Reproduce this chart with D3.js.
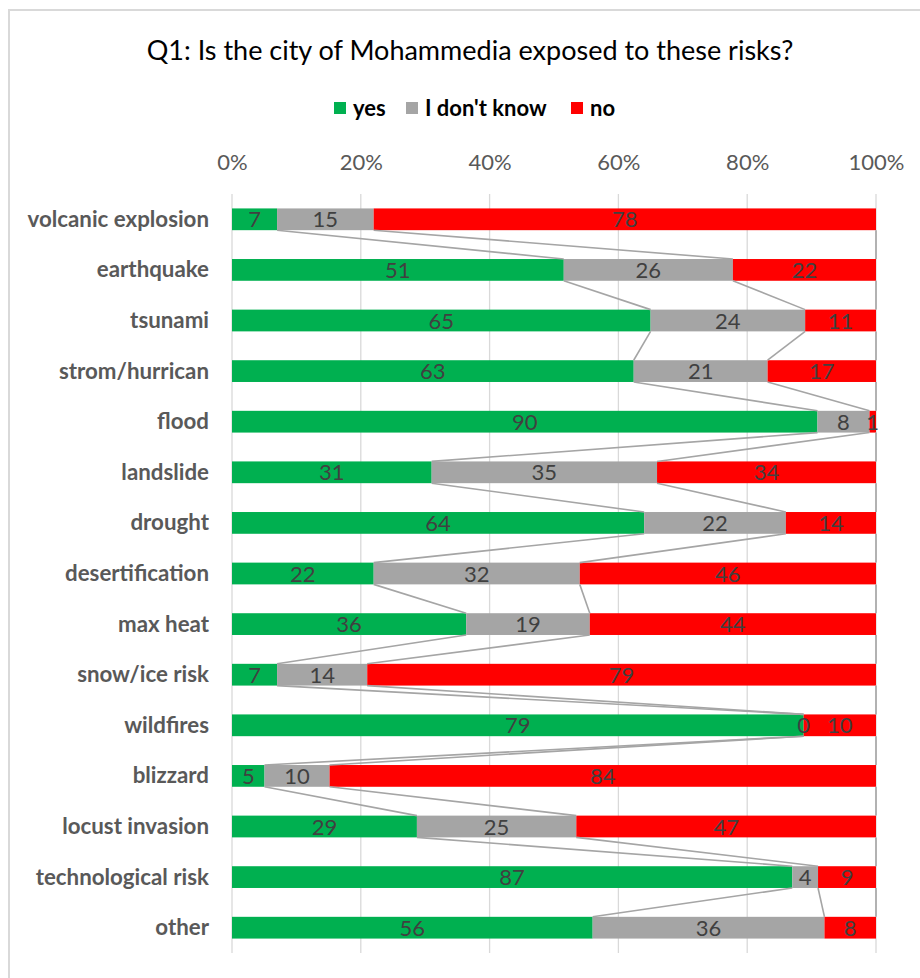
<!DOCTYPE html>
<html>
<head>
<meta charset="utf-8">
<script src="https://cdn.jsdelivr.net/npm/d3@7"></script>
<style>
  html, body { margin: 0; padding: 0; background: #fff; }
  svg { display: block; }
</style>
</head>
<body>
<svg id="chart" width="920" height="978"></svg>
<script>
const categories = ["volcanic explosion","earthquake","tsunami","strom/hurrican","flood","landslide","drought","desertification","max heat","snow/ice risk","wildfires","blizzard","locust invasion","technological risk","other"];
const yesValues   = [7, 51, 65, 63, 90, 31, 64, 22, 36, 7, 79, 5, 29, 87, 56];
const dontKnowValues = [15, 26, 24, 21, 8, 35, 22, 32, 19, 14, 0, 10, 25, 4, 36];
const noValues    = [78, 22, 11, 17, 1, 34, 14, 46, 44, 79, 10, 84, 47, 9, 8];
const seriesNames = ["yes", "I don't know", "no"];
const seriesColors = ["#00b050", "#a5a5a5", "#ff0000"];
const tickValues = [0, 0.2, 0.4, 0.6, 0.8, 1];
const titleText = "Q1: Is the city of Mohammedia exposed to these risks?";

const FONT = "Lato, 'Open Sans', sans-serif";
const svg = d3.select("#chart");

// chart border
svg.append("rect").attr("x", 9).attr("y", 10).attr("width", 930).attr("height", 1000)
  .attr("fill", "none").attr("stroke", "#d9d9d9").attr("stroke-width", 2);

// title
svg.append("text").attr("x", 470).attr("y", 60).attr("text-anchor", "middle")
  .attr("font-family", FONT).attr("font-size", 27).attr("fill", "#000").text(titleText);

const x = d3.scaleLinear().domain([0, 1]).range([232, 876]);
const y = d3.scaleBand().domain(categories).range([194, 953]).paddingInner(0.57).paddingOuter(0.285);

// data rows
const rows = categories.map((c, i) => {
  const vals = [yesValues[i], dontKnowValues[i], noValues[i]];
  const total = d3.sum(vals);
  let cum = 0;
  const segs = vals.map((v, s) => {
    const x0 = cum / total; cum += v; const x1 = cum / total;
    return { cat: c, s, v, x0, x1 };
  });
  return { cat: c, segs };
});

// grid
svg.append("g").selectAll("line").data(tickValues).join("line")
  .attr("x1", d => x(d)).attr("x2", d => x(d))
  .attr("y1", 194).attr("y2", 953)
  .attr("stroke", "#d9d9d9").attr("stroke-width", 1.3);

// top axis labels
const axis = d3.axisTop(x).tickValues(tickValues).tickFormat(d3.format(".0%")).tickSize(0).tickPadding(0);
const axG = svg.append("g").attr("transform", "translate(0,170)").call(axis);
axG.select(".domain").remove();
axG.selectAll("text").attr("font-family", FONT).attr("font-size", 22).attr("fill", "#595959");

// bars
const barG = svg.append("g");
rows.forEach(r => {
  barG.selectAll(null).data(r.segs).join("rect")
    .attr("x", d => x(d.x0)).attr("width", d => x(d.x1) - x(d.x0))
    .attr("y", y(r.cat)).attr("height", y.bandwidth())
    .attr("fill", d => seriesColors[d.s]);
});

// series lines
const lineG = svg.append("g");
for (let i = 0; i < rows.length - 1; i++) {
  for (let s = 0; s < 3; s++) {
    const a = rows[i].segs[s].x1, b = rows[i + 1].segs[s].x1;
    lineG.append("line")
      .attr("x1", x(a)).attr("y1", y(rows[i].cat) + y.bandwidth())
      .attr("x2", x(b)).attr("y2", y(rows[i + 1].cat))
      .attr("stroke", "#a5a5a5").attr("stroke-width", 1.6);
  }
}

// value labels
const labG = svg.append("g");
rows.forEach(r => {
  labG.selectAll(null).data(r.segs).join("text")
    .attr("x", d => x((d.x0 + d.x1) / 2)).attr("y", y(r.cat) + y.bandwidth() / 2 + 8)
    .attr("text-anchor", "middle").attr("font-family", FONT).attr("font-size", 22)
    .attr("fill", "#404040").text(d => d.v);
});

// category labels
svg.append("g").selectAll("text").data(categories).join("text")
  .attr("x", 209).attr("y", d => y(d) + y.bandwidth() / 2 + 7.5)
  .attr("text-anchor", "end").attr("font-family", FONT).attr("font-size", 22.3)
  .attr("font-weight", "bold").attr("fill", "#595959").text(d => d);

// legend
const legG = svg.append("g").attr("font-family", FONT).attr("font-size", 22).attr("font-weight", "bold");
const legItems = [{ x: 334 }, { x: 406 }, { x: 571 }];
seriesNames.forEach((n, i) => {
  legG.append("rect").attr("x", legItems[i].x).attr("y", 102).attr("width", 12).attr("height", 12).attr("fill", seriesColors[i]);
  legG.append("text").attr("x", legItems[i].x + 19).attr("y", 116).attr("fill", "#000").text(n);
});
</script>
</body>
</html>
